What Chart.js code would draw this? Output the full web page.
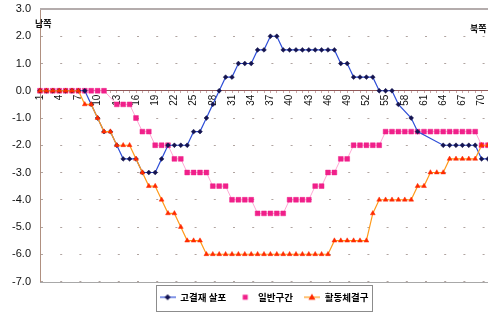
<!DOCTYPE html>
<html>
<head>
<meta charset="utf-8">
<script src="https://cdn.jsdelivr.net/npm/chart.js@4.4.0/dist/chart.umd.min.js"></script>
<style>
html, body { margin: 0; padding: 0; background: #fff; overflow: hidden; }
</style>
</head>
<body>
<canvas id="myChart" width="520" height="313"></canvas>
<script>
// stations along the section, 1 .. 71
var stations = ['1','2','3','4','5','6','7','8','9','10','11','12','13','14','15','16','17','18','19','20',
    '21','22','23','24','25','26','27','28','29','30','31','32','33','34','35','36','37','38','39','40',
    '41','42','43','44','45','46','47','48','49','50','51','52','53','54','55','56','57','58','59','60',
    '61','62','63','64','65','66','67','68','69','70','71'];

var seriesNames = ['고결재 살포', '일반구간', '활동체결구'];

// 고결재 살포
var gojeoljae = [0, 0, 0, 0, 0, 0, 0, 0, -0.5, -1.0,
    -1.5, -1.5, -2.0, -2.5, -2.5, -2.5, -3.0, -3.0, -3.0, -2.5,
    -2.0, -2.0, -2.0, -2.0, -1.5, -1.5, -1.0, -0.5, 0, 0.5,
    0.5, 1.0, 1.0, 1.0, 1.5, 1.5, 2.0, 2.0, 1.5, 1.5,
    1.5, 1.5, 1.5, 1.5, 1.5, 1.5, 1.5, 1.0, 1.0, 0.5,
    0.5, 0.5, 0.5, 0, 0, 0, -0.5, null, -1.0, -1.5,
    null, null, null, -2.0, -2.0, -2.0, -2.0, -2.0, -2.0, -2.5,
    -2.5];

// 일반구간
var ilban = [0, 0, 0, 0, 0, 0, 0, 0, 0, 0,
    0, null, -0.5, -0.5, -0.5, -1.0, -1.5, -1.5, -2.0, -2.0,
    -2.0, -2.5, -2.5, -3.0, -3.0, -3.0, -3.0, -3.5, -3.5, -3.5,
    -4.0, -4.0, -4.0, -4.0, -4.5, -4.5, -4.5, -4.5, -4.5, -4.0,
    -4.0, -4.0, -4.0, -3.5, -3.5, -3.0, -3.0, -2.5, -2.5, -2.0,
    -2.0, -2.0, -2.0, -2.0, -1.5, -1.5, -1.5, -1.5, -1.5, -1.5,
    -1.5, -1.5, -1.5, -1.5, -1.5, -1.5, -1.5, -1.5, -1.5, -2.0,
    -2.0];

// 활동체결구
var hwaldong = [0, 0, 0, 0, 0, 0, 0, -0.5, -0.5, -1.0,
    -1.5, -1.5, -2.0, -2.0, -2.0, -2.5, -3.0, -3.5, -3.5, -4.0,
    -4.5, -4.5, -5.0, -5.5, -5.5, -5.5, -6.0, -6.0, -6.0, -6.0,
    -6.0, -6.0, -6.0, -6.0, -6.0, -6.0, -6.0, -6.0, -6.0, -6.0,
    -6.0, -6.0, -6.0, -6.0, -6.0, -6.0, -5.5, -5.5, -5.5, -5.5,
    -5.5, -5.5, -4.5, -4.0, -4.0, -4.0, -4.0, -4.0, -4.0, -3.5,
    -3.5, -3.0, -3.0, -3.0, -2.5, -2.5, -2.5, -2.5, -2.5, -2.0,
    -2.0];

var legendFont = { family: "'Noto Sans CJK KR'", size: 9.5, weight: 'bold' };

// little legend pictures: line + marker
function legendIcon(kind, lineColor, pointColor) {
    var c = document.createElement('canvas');
    c.width = 16; c.height = 8;
    var g = c.getContext('2d');
    if (lineColor) {
        g.strokeStyle = lineColor; g.lineWidth = 1.2;
        g.beginPath(); g.moveTo(0, 4); g.lineTo(16, 4); g.stroke();
    }
    g.fillStyle = pointColor;
    g.beginPath();
    if (kind === 'diamond') { g.moveTo(8, 1); g.lineTo(11, 4); g.lineTo(8, 7); g.lineTo(5, 4); }
    else if (kind === 'square') { g.rect(5.5, 1.5, 5, 5); }
    else { g.moveTo(8, 0.5); g.lineTo(11.5, 6.5); g.lineTo(4.5, 6.5); }
    g.closePath(); g.fill();
    return c;
}
var icons = [
    legendIcon('diamond', '#2f4fd8', '#141450'),
    legendIcon('square', null, '#f0208a'),
    legendIcon('triangle', '#ff9a1a', '#ff2a00')
];

var frame = {
    id: 'frame',
    beforeDatasetsDraw: function(chart) {
        var a = chart.chartArea, y = chart.scales.y, ctx = chart.ctx;
        ctx.save();
        ctx.strokeStyle = '#b4acac';
        ctx.lineWidth = 2;
        var top = Math.round(y.getPixelForValue(3));
        ctx.beginPath(); ctx.moveTo(a.left, top); ctx.lineTo(a.right, top); ctx.stroke();
        ctx.lineWidth = 1;
        ctx.strokeStyle = '#a8a8a8';
        var bot = Math.round(y.getPixelForValue(-7)) + 0.5;
        ctx.beginPath(); ctx.moveTo(a.left, bot); ctx.lineTo(a.right, bot); ctx.stroke();
        ctx.restore();
    },
    afterDraw: function(chart) {
        var ctx = chart.ctx, a = chart.chartArea;
        ctx.save();
        ctx.fillStyle = '#111';
        ctx.font = "bold 9px 'Noto Sans CJK KR'";
        ctx.textBaseline = 'middle';
        ctx.textAlign = 'left';
        ctx.fillText('남쪽', a.left - 5, 24);
        ctx.fillText('북쪽', 470, 29);
        // box round the legend
        var boxes = chart.legend.legendHitBoxes;
        if (boxes && boxes.length) {
            var last = boxes[boxes.length - 1];
            ctx.font = "bold 9.5px 'Noto Sans CJK KR'";
            var textW = ctx.measureText(seriesNames[seriesNames.length - 1]).width;
            var l = boxes[0].left - 4, r = last.left + 16 + legendFont.size / 2 + textW + 3;
            var t = boxes[0].top - 8, b = boxes[0].top + boxes[0].height + 8;
            ctx.strokeStyle = '#8c8c8c';
            ctx.lineWidth = 1;
            ctx.strokeRect(Math.round(l) + 0.5, Math.round(t) + 0.5, Math.round(r - l), Math.round(b - t));
        }
        ctx.restore();
    }
};

var ctx = document.getElementById('myChart').getContext('2d');
var chart = new Chart(ctx, {
    type: 'line',
    data: {
        labels: stations,
        datasets: [{
            label: seriesNames[0],
            data: gojeoljae,
            borderColor: '#2f4fd8',
            borderWidth: 1.2,
            pointStyle: 'rectRot',
            pointRadius: 2.4,
            pointBackgroundColor: '#141450',
            pointBorderColor: '#141450',
            pointBorderWidth: 0.5,
            spanGaps: true,
            lineTension: 0,
            order: 1
        },
        {
            label: seriesNames[1],
            data: ilban,
            borderColor: '#ffa8d4',
            borderWidth: 1,
            pointStyle: 'rect',
            pointRadius: 3.4,
            pointBackgroundColor: '#f0208a',
            pointBorderColor: '#f0208a',
            pointBorderWidth: 0.5,
            spanGaps: true,
            lineTension: 0,
            order: 2
        },
        {
            label: seriesNames[2],
            data: hwaldong,
            borderColor: '#ff9a1a',
            borderWidth: 1.2,
            pointStyle: 'triangle',
            pointRadius: 2.8,
            pointBackgroundColor: '#ff2a00',
            pointBorderColor: '#ff2a00',
            pointBorderWidth: 0.5,
            spanGaps: true,
            lineTension: 0,
            order: 0
        }]
    },
    options: {
        responsive: false,
        animation: false,
        layout: { padding: { top: 9, right: 32, bottom: 1, left: 0 } },
        plugins: {
            tooltip: { enabled: false },
            legend: {
                position: 'bottom',
                fullSize: false,
                labels: {
                    usePointStyle: true,
                    pointStyleWidth: 16,
                    boxHeight: 8,
                    padding: 11,
                    color: '#000',
                    font: legendFont,
                    generateLabels: function(chart) {
                        var items = Chart.defaults.plugins.legend.labels.generateLabels(chart);
                        items.forEach(function(it) { it.pointStyle = icons[it.datasetIndex]; });
                        return items;
                    },
                    sort: function(a, b) { return a.datasetIndex - b.datasetIndex; }
                }
            }
        },
        scales: {
            x: {
                type: 'category',
                position: { y: 0 },
                offset: false,
                ticks: {
                    autoSkip: false,
                    minRotation: 90,
                    maxRotation: 90,
                    padding: 2,
                    color: '#111',
                    font: { family: "'Liberation Sans'", size: 10 },
                    callback: function(v, i) { return i % 3 === 0 ? this.getLabelForValue(v) : ''; }
                },
                grid: { drawOnChartArea: false, drawTicks: true, tickLength: 2, color: '#c8a8a8' },
                border: { color: '#905858', width: 1 },
                afterFit: function(s) { s.paddingLeft = 0; s.paddingRight = 0; s.paddingTop = 0; s.paddingBottom = 0; }
            },
            y: {
                min: -7,
                max: 3,
                ticks: {
                    stepSize: 1,
                    padding: 9,
                    color: '#111',
                    font: { family: "'Liberation Sans'", size: 11 },
                    callback: function(v) { return v.toFixed(1); }
                },
                grid: { color: '#b0a4a0', drawTicks: false },
                border: { color: '#b09080', dash: [2, 17.2] },
                afterFit: function(s) { s.width = 40; s.paddingTop = 0; s.paddingBottom = 0; }
            }
        }
    },
    plugins: [frame]
});
</script>
</body>
</html>
